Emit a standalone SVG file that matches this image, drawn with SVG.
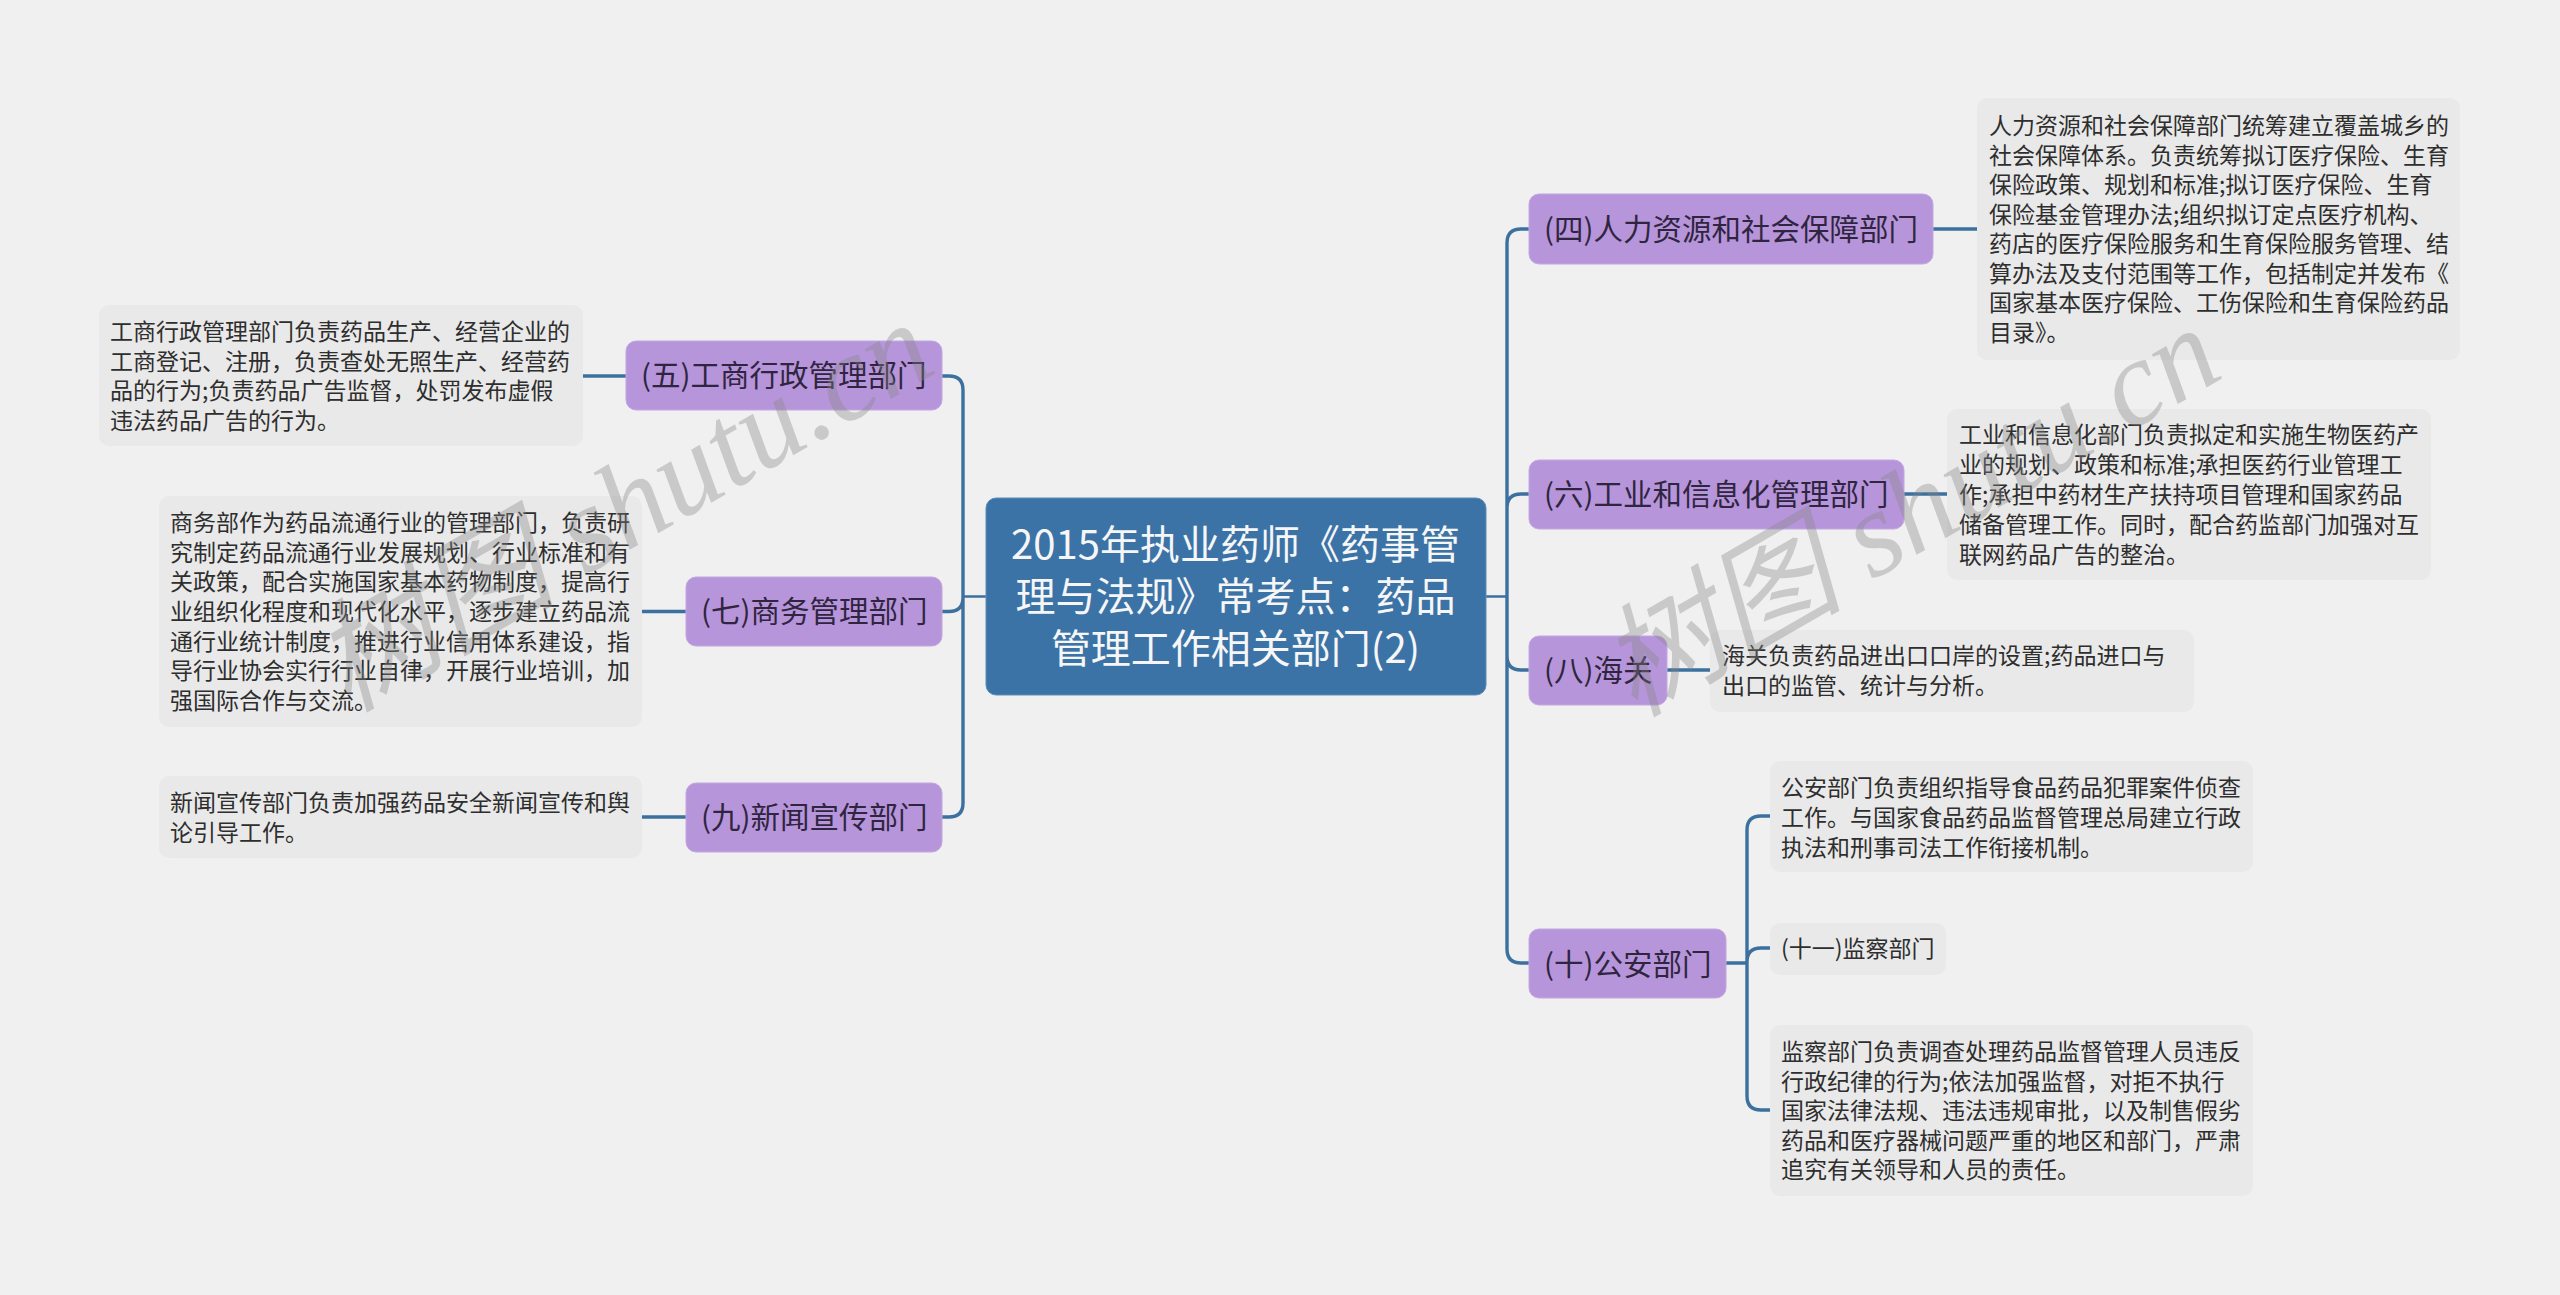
<svg xmlns="http://www.w3.org/2000/svg" width="2560" height="1295" viewBox="0 0 2560 1295">
<style>
text{font-family:"Noto Sans CJK SC","Microsoft YaHei",sans-serif}
.leaf rect{fill:#e9e9e9}
.leaf text{font-size:23px;fill:#2e2e2e}
.node rect{fill:#b795da;stroke:#c3a8e2;stroke-width:1}
.node text{font-size:29.5px;fill:#2f2540}
.root rect{fill:#3c73a6;stroke:#5f8db8;stroke-width:1}
.root text{font-size:40px;fill:#f6f6f6;text-anchor:middle}
#connectors path{fill:none;stroke:#3b709f;stroke-width:3.4}
#connectors path.thin{stroke-width:2.6}
.wm{font-family:"Liberation Serif","Noto Sans CJK SC",serif;font-style:italic;font-size:122px;fill:#858585;fill-opacity:.36}
</style>
<rect width="2560" height="1295" fill="#f0f0f0"/>
<g id="connectors">
<path class="thin" d="M1486 596.500H1507M986 596.500H963"/>
<path d="M1529 229H1521Q1507 229 1507 243V949Q1507 963 1521 963H1529M1507 508Q1507 494 1521 494H1529M1507 656Q1507 670 1521 670H1529"/>
<path d="M942 376H949Q963 376 963 390V803Q963 817 949 817H942M963 597.500Q963 611.500 949 611.500H942"/>
<path d="M1933 229H1977M1904 494H1947M1667 670H1710M1726 963H1747M1770 816H1761Q1747 816 1747 830V1096Q1747 1110 1761 1110H1770M1747 962Q1747 948 1761 948H1770"/>
<path d="M626 376H583M686 611.500H642M686 817H642"/>
</g>
<g id="root" class="root"><rect x="986" y="498" width="500" height="197" rx="10"/>
<text x="1235.500" y="559">2015年执业药师《药事管</text><text x="1235.500" y="611">理与法规》常考点：药品</text><text x="1235.500" y="663">管理工作相关部门(2)</text></g>
<g id="n4" class="node"><rect x="1529" y="194" width="404" height="70" rx="10"/><text x="1544" y="240">(四)人力资源和社会保障部门</text></g>
<g id="n6" class="node"><rect x="1529" y="460" width="375" height="69" rx="10"/><text x="1544" y="505">(六)工业和信息化管理部门</text></g>
<g id="n8" class="node"><rect x="1529" y="636" width="138" height="69" rx="10"/><text x="1544" y="681">(八)海关</text></g>
<g id="n10" class="node"><rect x="1529" y="929" width="197" height="69" rx="10"/><text x="1544" y="974.500">(十)公安部门</text></g>
<g id="n5" class="node"><rect x="626" y="341" width="316" height="69" rx="10"/><text x="641" y="386">(五)工商行政管理部门</text></g>
<g id="n7" class="node"><rect x="686" y="577" width="256" height="69" rx="10"/><text x="701" y="622">(七)商务管理部门</text></g>
<g id="n9" class="node"><rect x="686" y="783" width="256" height="69" rx="10"/><text x="701" y="828">(九)新闻宣传部门</text></g>
<g id="l5" class="leaf"><rect x="99" y="305" width="484" height="141" rx="10"/>
<text x="110" y="340">工商行政管理部门负责药品生产、经营企业的</text><text x="110" y="370">工商登记、注册，负责查处无照生产、经营药</text><text x="110" y="399">品的行为;负责药品广告监督，处罚发布虚假</text><text x="110" y="429">违法药品广告的行为。</text></g>
<g id="l7" class="leaf"><rect x="159" y="496" width="483" height="231" rx="10"/>
<text x="170" y="531">商务部作为药品流通行业的管理部门，负责研</text><text x="170" y="561">究制定药品流通行业发展规划、行业标准和有</text><text x="170" y="590">关政策，配合实施国家基本药物制度，提高行</text><text x="170" y="620">业组织化程度和现代化水平，逐步建立药品流</text><text x="170" y="650">通行业统计制度，推进行业信用体系建设，指</text><text x="170" y="679">导行业协会实行行业自律，开展行业培训，加</text><text x="170" y="709">强国际合作与交流。</text></g>
<g id="l9" class="leaf"><rect x="159" y="776" width="483" height="82" rx="10"/>
<text x="170" y="811">新闻宣传部门负责加强药品安全新闻宣传和舆</text><text x="170" y="841">论引导工作。</text></g>
<g id="l4" class="leaf"><rect x="1977" y="98" width="483" height="262" rx="10"/>
<text x="1989" y="134">人力资源和社会保障部门统筹建立覆盖城乡的</text><text x="1989" y="164">社会保障体系。负责统筹拟订医疗保险、生育</text><text x="1989" y="193">保险政策、规划和标准;拟订医疗保险、生育</text><text x="1989" y="223">保险基金管理办法;组织拟订定点医疗机构、</text><text x="1989" y="252">药店的医疗保险服务和生育保险服务管理、结</text><text x="1989" y="282">算办法及支付范围等工作，包括制定并发布《</text><text x="1989" y="311">国家基本医疗保险、工伤保险和生育保险药品</text><text x="1989" y="341">目录》。</text></g>
<g id="l6" class="leaf"><rect x="1947" y="409" width="484" height="171" rx="10"/>
<text x="1959" y="443">工业和信息化部门负责拟定和实施生物医药产</text><text x="1959" y="473">业的规划、政策和标准;承担医药行业管理工</text><text x="1959" y="503">作;承担中药材生产扶持项目管理和国家药品</text><text x="1959" y="533">储备管理工作。同时，配合药监部门加强对互</text><text x="1959" y="563">联网药品广告的整治。</text></g>
<g id="l8" class="leaf"><rect x="1710" y="630" width="484" height="82" rx="10"/>
<text x="1722" y="664">海关负责药品进出口口岸的设置;药品进口与</text><text x="1722" y="694">出口的监管、统计与分析。</text></g>
<g id="l10a" class="leaf"><rect x="1770" y="761" width="483" height="111" rx="10"/>
<text x="1781" y="796">公安部门负责组织指导食品药品犯罪案件侦查</text><text x="1781" y="826">工作。与国家食品药品监督管理总局建立行政</text><text x="1781" y="856">执法和刑事司法工作衔接机制。</text></g>
<g id="l10b" class="leaf"><rect x="1770" y="923" width="176" height="52" rx="10"/>
<text x="1781" y="957">(十一)监察部门</text></g>
<g id="l10c" class="leaf"><rect x="1770" y="1025" width="483" height="171" rx="10"/>
<text x="1781" y="1060">监察部门负责调查处理药品监督管理人员违反</text><text x="1781" y="1090">行政纪律的行为;依法加强监督，对拒不执行</text><text x="1781" y="1119">国家法律法规、违法违规审批，以及制售假劣</text><text x="1781" y="1149">药品和医疗器械问题严重的地区和部门，严肃</text><text x="1781" y="1178">追究有关领导和人员的责任。</text></g>
<text class="wm" transform="translate(347 713) rotate(-30)">树图 shutu.cn</text>
<text class="wm" transform="translate(1634 718) rotate(-30)">树图 shutu.cn</text>
</svg>
